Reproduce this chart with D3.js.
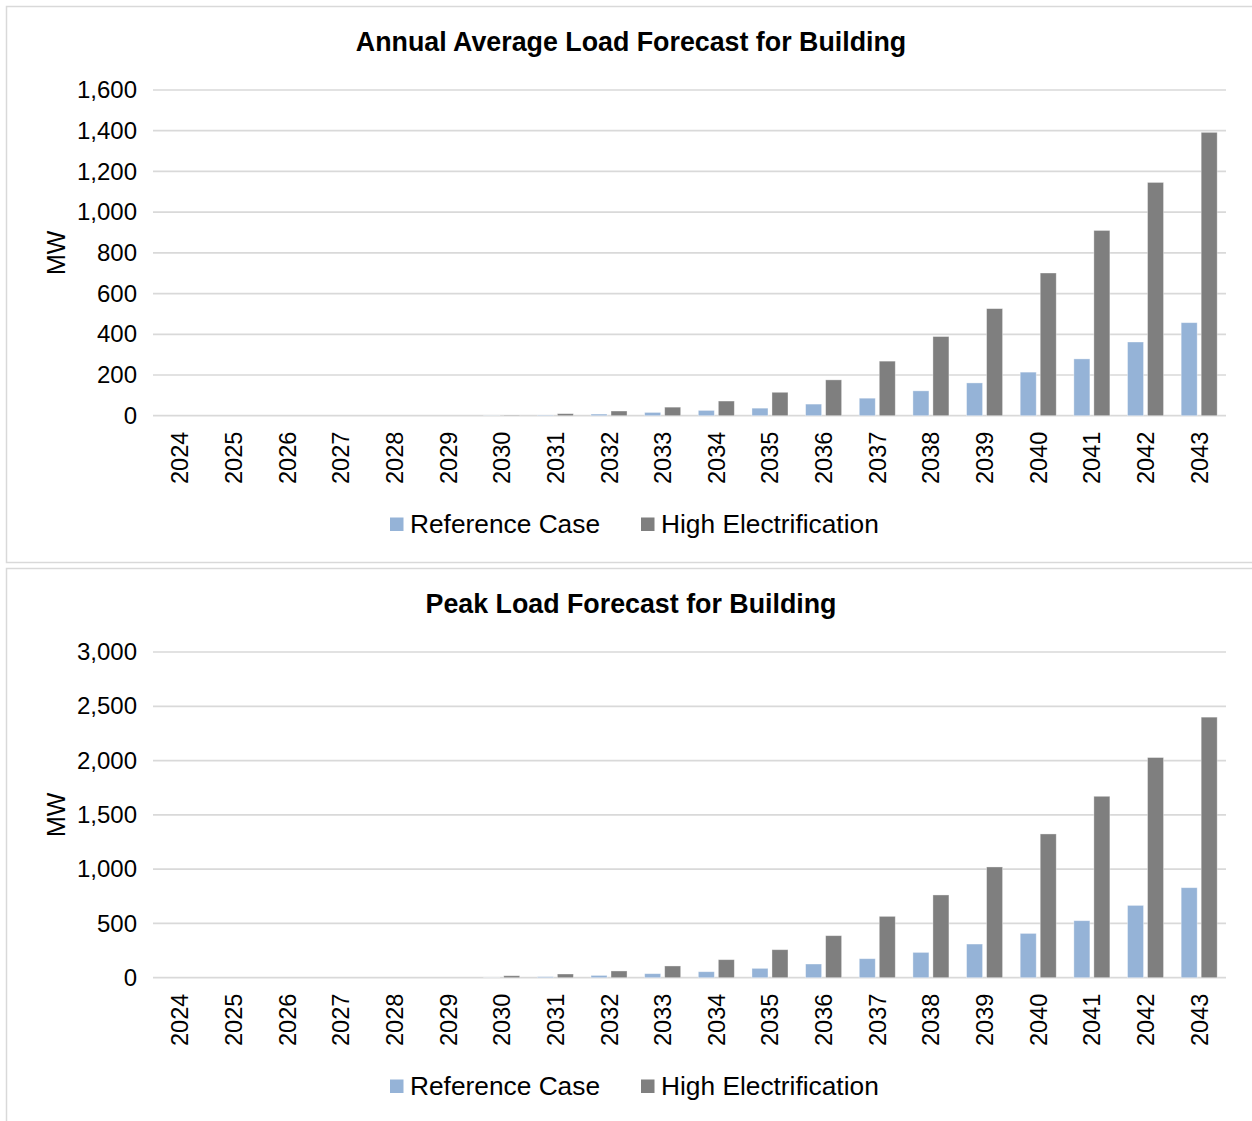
<!DOCTYPE html>
<html>
<head>
<meta charset="utf-8">
<script src="https://cdn.jsdelivr.net/npm/d3@7/dist/d3.min.js"></script>
<style>
  html, body { margin: 0; padding: 0; background: #fff; }
  svg { display: block; font-family: "Liberation Sans", Arial, sans-serif; }
</style>
</head>
<body>
<svg id="chart" width="1252" height="1121"></svg>
<script>
// Forecast years (category axis)
const years = ["2024","2025","2026","2027","2028","2029","2030","2031","2032","2033",
               "2034","2035","2036","2037","2038","2039","2040","2041","2042","2043"];
const seriesNames = ["Reference Case", "High Electrification"];
const seriesColors = ["#95B3D7", "#7F7F7F"];

// Annual average load (MW)
const annualReference = [0,0,0,0,0,0,1,3,8,16,26,37,57,86,122,161,214,279,362,457];
const annualHighElec  = [0,0,0,0,0,0,3,10,23,42,72,115,176,268,389,526,701,910,1146,1392];
const annualTicks = [0,200,400,600,800,1000,1200,1400,1600];

// Peak load (MW)
const peakReference = [0,0,0,0,0,0,1,9,21,37,55,86,126,175,233,310,408,525,666,829];
const peakHighElec  = [0,0,0,0,0,0,18,34,62,108,166,258,387,565,762,1020,1324,1671,2028,2400];
const peakTicks = [0,500,1000,1500,2000,2500,3000];

const svg = d3.select("#chart");
const fmt = d3.format(",");

function drawPanel(top, title, refVals, highVals, ticks) {
  const g = svg.append("g").attr("transform", `translate(0,${top})`);

  // panel frame
  g.append("rect")
    .attr("x", 6.5).attr("y", 6.5)
    .attr("width", 1260).attr("height", 556)
    .attr("fill", "#fff").attr("stroke", "#d9d9d9").attr("stroke-width", 1.5);

  const left = 153, right = 1226, plotTop = 90, plotBottom = 415.7;

  const x0 = d3.scaleBand().domain(years).range([left, right]).padding(0);
  const x1 = d3.scaleBand().domain(seriesNames).range([0, x0.bandwidth()])
    .paddingInner(0.2).paddingOuter(0.441);
  const y = d3.scaleLinear().domain([0, d3.max(ticks)]).range([plotBottom, plotTop]);

  // title
  g.append("text")
    .attr("x", 631).attr("y", 51)
    .attr("text-anchor", "middle")
    .attr("font-size", 26.8).attr("font-weight", "bold").attr("fill", "#000")
    .text(title);

  // gridlines
  g.append("g").selectAll("line").data(ticks).join("line")
    .attr("x1", left).attr("x2", right)
    .attr("y1", d => y(d)).attr("y2", d => y(d))
    .attr("stroke", "#d9d9d9").attr("stroke-width", 1.7);

  // value axis labels
  const yAxis = d3.axisLeft(y).tickValues(ticks).tickFormat(fmt).tickSize(0).tickPadding(0);
  const ya = g.append("g").attr("transform", `translate(137,0)`).call(yAxis);
  ya.select(".domain").remove();
  ya.selectAll("text").attr("font-size", 24).attr("fill", "#000")
    .attr("font-family", "Liberation Sans, Arial, sans-serif");

  // axis title
  g.append("text")
    .attr("transform", `translate(65,${(plotTop + plotBottom) / 2}) rotate(-90)`)
    .attr("text-anchor", "middle")
    .attr("font-size", 25).attr("fill", "#000")
    .text("MW");

  // category axis labels (rotated)
  const xAxis = d3.axisBottom(x0).tickSize(0).tickPadding(0);
  const xa = g.append("g").attr("transform", `translate(0,${plotBottom})`).call(xAxis);
  xa.select(".domain").remove();
  xa.selectAll("text")
    .attr("font-size", 23.5).attr("fill", "#000")
    .attr("font-family", "Liberation Sans, Arial, sans-serif")
    .attr("text-anchor", "end")
    .attr("dy", null).attr("y", 0)
    .attr("transform", "translate(8.5,16) rotate(-90)");

  // bars
  const rows = years.map((yr, i) => ({ year: yr, values: [refVals[i], highVals[i]] }));
  const groups = g.append("g").selectAll("g").data(rows).join("g")
    .attr("transform", d => `translate(${x0(d.year)},0)`);
  groups.selectAll("rect")
    .data(d => d.values.map((v, k) => ({ name: seriesNames[k], value: v, color: seriesColors[k] })))
    .join("rect")
    .attr("x", d => x1(d.name))
    .attr("width", x1.bandwidth())
    .attr("y", d => y(d.value))
    .attr("height", d => y(0) - y(d.value))
    .attr("fill", d => d.color)
    .attr("stroke", "#ffffff").attr("stroke-opacity", 0.45).attr("stroke-width", 0.8);

  // legend
  const legendItems = [
    { name: seriesNames[0], color: seriesColors[0], x: 390 },
    { name: seriesNames[1], color: seriesColors[1], x: 641 }
  ];
  const lg = g.append("g").selectAll("g").data(legendItems).join("g")
    .attr("transform", d => `translate(${d.x},0)`);
  lg.append("rect")
    .attr("x", 0).attr("y", 517.5).attr("width", 13.5).attr("height", 13.5)
    .attr("fill", d => d.color);
  lg.append("text")
    .attr("x", 20).attr("y", 533)
    .attr("font-size", 26.3).attr("fill", "#000")
    .text(d => d.name);
}

drawPanel(0, "Annual Average Load Forecast for Building", annualReference, annualHighElec, annualTicks);
drawPanel(562, "Peak Load Forecast for Building", peakReference, peakHighElec, peakTicks);
</script>
</body>
</html>
